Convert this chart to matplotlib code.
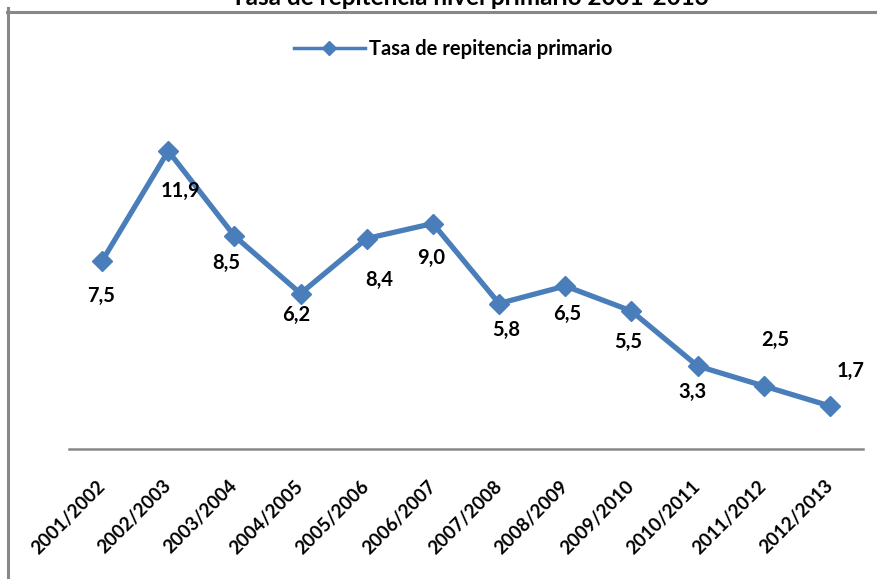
import matplotlib
matplotlib.use("Agg")
import matplotlib.pyplot as plt
from matplotlib.lines import Line2D

plt.rcParams['font.family'] = ['Lato', 'DejaVu Sans']

categories = ["2001/2002", "2002/2003", "2003/2004", "2004/2005", "2005/2006", "2006/2007",
              "2007/2008", "2008/2009", "2009/2010", "2010/2011", "2011/2012", "2012/2013"]
values = [7.5, 11.9, 8.5, 6.2, 8.4, 9.0, 5.8, 6.5, 5.5, 3.3, 2.5, 1.7]
value_labels = ["7,5", "11,9", "8,5", "6,2", "8,4", "9,0", "5,8", "6,5", "5,5", "3,3", "2,5", "1,7"]
series_name = "Tasa de repitencia primario"
title = "Tasa de repitencia nivel primario 2001-2013"

# label offsets in pixels (layout only)
label_offsets = [(-1, -35), (12, -40), (-8, -27), (-4, -21), (13, -41), (-2, -34),
                 (7, -26), (2, -28), (-3, -31), (-5, -26), (12, 46), (21, 35)]

W, H = 878, 579
fig = plt.figure(figsize=(W / 100, H / 100), dpi=100)
fig.patch.set_facecolor("white")

blue = "#4A7EBB"
gray = "#888888"

# frame (left and top visible)
fig.add_artist(Line2D([8 / W, 8 / W], [0, 1 - 8 / H], transform=fig.transFigure, color=gray, lw=2.2))
fig.add_artist(Line2D([7 / W, 1], [1 - 11.5 / H, 1 - 11.5 / H], transform=fig.transFigure, color=gray, lw=2.2))

ax = fig.add_axes([69 / W, (H - 448.5) / H, 794 / W, 400 / H])
x = list(range(len(categories)))
ax.plot(x, values, color=blue, lw=3.8, marker="D", ms=10, mfc=blue, mec=blue, solid_joinstyle="miter")
ax.set_xlim(-0.5, len(categories) - 0.5)
ax.set_ylim(0, 16)
for s in ["top", "right", "left"]:
    ax.spines[s].set_visible(False)
ax.spines["bottom"].set_color(gray)
ax.spines["bottom"].set_linewidth(1.8)
ax.set_yticks([])
ax.set_xticks(x)
ax.set_xticklabels(categories, rotation=45, ha="right", va="center", rotation_mode="anchor",
                   fontsize=13.5, fontweight="bold")
ax.tick_params(axis="x", length=0, pad=25)
ax.set_facecolor("none")

for xi, v, lab, (dx, dy) in zip(x, values, value_labels, label_offsets):
    ax.annotate(lab, (xi, v), xytext=(dx, dy), textcoords="offset pixels",
                ha="center", va="center", fontsize=14.5, fontweight="bold", color="black")

# legend
handle = Line2D([], [], color=blue, lw=2.5, marker="D", ms=7, mfc=blue, mec=blue)
leg = fig.legend([handle], [series_name], loc="center", bbox_to_anchor=(453 / W, 1 - 49 / H),
                 frameon=False, prop={"weight": "bold", "size": 14.5},
                 handlelength=3.5, handletextpad=0.2)

fig.text(470 / W, 1 - 5 / H, title, ha="center", va="baseline", fontsize=17.5, fontweight="bold")

fig.savefig("out.png", dpi=100)
